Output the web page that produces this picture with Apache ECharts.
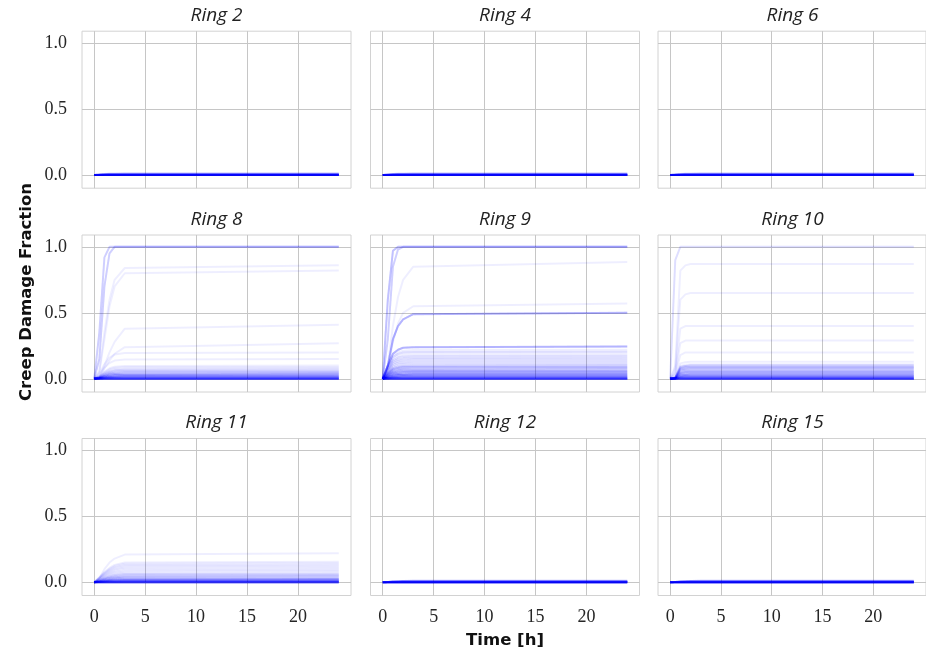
<!DOCTYPE html>
<html><head><meta charset="utf-8">
<script src="https://cdn.jsdelivr.net/npm/echarts@6/dist/echarts.min.js"></script>
<style>html,body{margin:0;padding:0;background:#fff}#c{width:926px;height:654px}</style>
</head><body><div id="c"></div>
<script>
// ---- data ----
const hours = [0, 0.5, 1, 1.5, 2, 3, 24];
const ringNames = ['Ring 2','Ring 4','Ring 6','Ring 8','Ring 9','Ring 10','Ring 11','Ring 12','Ring 15'];
const xTicks = [0, 5, 10, 15, 20];
const yTicks = [0, 0.5, 1.0];
const xTitle = 'Time [h]';
const yTitle = 'Creep Damage Fraction';

// creep damage of sample curves at the hours above; counts = number of samples following each curve
const zeroRingCurves = [
  [0,0,0,0,0,0,0],
  [0,0.002,0.004,0.005,0.006,0.006,0.006],
  [0,0.003,0.007,0.009,0.010,0.011,0.011]
];
const ring2Curves = zeroRingCurves, ring2Counts = [30, 12, 4];
const ring4Curves = zeroRingCurves, ring4Counts = [30, 12, 4];
const ring6Curves = zeroRingCurves, ring6Counts = [30, 12, 4];
const ring12Curves = zeroRingCurves, ring12Counts = [30, 12, 4];
const ring15Curves = zeroRingCurves, ring15Counts = [30, 12, 4];

const ring8Curves = [
  [0,0.35,0.92,1.00,1.00,1.00,1.00],
  [0,0.15,0.70,0.95,1.00,1.00,1.00],
  [0,0.06,0.35,0.60,0.75,0.84,0.86],
  [0,0.05,0.30,0.55,0.70,0.80,0.82],
  [0,0.02,0.10,0.20,0.28,0.38,0.41],
  [0,0.01,0.08,0.14,0.19,0.24,0.27],
  [0,0.04,0.11,0.16,0.184,0.196,0.20],
  [0,0.03,0.083,0.12,0.138,0.147,0.15],
  [0,0.02,0.055,0.08,0.092,0.098,0.10],
  [0,0.018,0.05,0.072,0.083,0.088,0.09],
  [0,0.016,0.044,0.064,0.074,0.078,0.08],
  [0,0.014,0.039,0.056,0.064,0.069,0.07],
  [0,0.012,0.033,0.048,0.055,0.059,0.06],
  [0,0.01,0.028,0.04,0.046,0.049,0.05],
  [0,0.008,0.022,0.032,0.037,0.039,0.04],
  [0,0.006,0.017,0.024,0.028,0.029,0.03],
  [0,0.004,0.011,0.016,0.018,0.02,0.02],
  [0,0.002,0.006,0.008,0.009,0.01,0.01],
  [0,0,0,0,0,0,0]
];
const ring8Counts = [3,3,1,1,1,1,1,1,1,1,1,2,2,3,4,5,7,9,18];

const ring9Curves = [
  [0,0.60,0.97,1.00,1.00,1.00,1.00],
  [0,0.30,0.85,0.98,1.00,1.00,1.00],
  [0,0.10,0.40,0.62,0.75,0.85,0.885],
  [0,0.08,0.28,0.42,0.50,0.55,0.57],
  [0,0.10,0.30,0.40,0.45,0.49,0.50],
  [0,0.10,0.19,0.22,0.235,0.24,0.245],
  [0,0.1,0.176,0.202,0.213,0.218,0.22],
  [0,0.092,0.164,0.189,0.199,0.203,0.205],
  [0,0.086,0.152,0.175,0.184,0.188,0.19],
  [0,0.079,0.14,0.161,0.17,0.173,0.175],
  [0,0.072,0.128,0.147,0.155,0.158,0.16],
  [0,0.065,0.116,0.133,0.141,0.144,0.145],
  [0,0.059,0.104,0.12,0.126,0.129,0.13],
  [0,0.052,0.092,0.106,0.112,0.114,0.115],
  [0,0.045,0.08,0.092,0.097,0.099,0.1],
  [0,0.041,0.072,0.083,0.087,0.089,0.09],
  [0,0.036,0.064,0.074,0.078,0.079,0.08],
  [0,0.032,0.056,0.064,0.068,0.069,0.07],
  [0,0.027,0.048,0.055,0.058,0.059,0.06],
  [0,0.023,0.04,0.046,0.049,0.05,0.05],
  [0,0.018,0.032,0.037,0.039,0.04,0.04],
  [0,0.014,0.024,0.028,0.029,0.03,0.03],
  [0,0.009,0.016,0.018,0.019,0.02,0.02],
  [0,0.005,0.008,0.009,0.01,0.01,0.01],
  [0,0,0,0,0,0,0]
];
const ring9Counts = [4,3,1,1,5,5,1,2,1,2,2,2,2,2,3,3,3,3,4,4,5,6,7,9,18];

const ring10Curves = [
  [0,0.90,1.00,1.00,1.00,1.00,1.00],
  [0,0.10,0.82,0.86,0.87,0.87,0.87],
  [0,0.08,0.60,0.64,0.65,0.65,0.65],
  [0,0.05,0.38,0.40,0.40,0.40,0.40],
  [0,0.04,0.27,0.29,0.29,0.29,0.29],
  [0,0.03,0.18,0.20,0.20,0.20,0.20],
  [0,0.013,0.117,0.126,0.13,0.13,0.13],
  [0,0.011,0.099,0.107,0.11,0.11,0.11],
  [0,0.01,0.09,0.097,0.1,0.1,0.1],
  [0,0.009,0.081,0.087,0.09,0.09,0.09],
  [0,0.008,0.072,0.078,0.08,0.08,0.08],
  [0,0.007,0.063,0.068,0.07,0.07,0.07],
  [0,0.006,0.054,0.058,0.06,0.06,0.06],
  [0,0.005,0.045,0.049,0.05,0.05,0.05],
  [0,0.004,0.036,0.039,0.04,0.04,0.04],
  [0,0.003,0.027,0.029,0.03,0.03,0.03],
  [0,0.002,0.018,0.019,0.02,0.02,0.02],
  [0,0.001,0.009,0.01,0.01,0.01,0.01],
  [0,0,0,0,0,0,0]
];
const ring10Counts = [2,1,1,1,1,1,1,1,3,3,3,3,3,4,4,5,7,9,18];

const ring11Curves = [
  [0,0.03,0.10,0.15,0.18,0.21,0.22],
  [0,0.039,0.078,0.109,0.132,0.15,0.155],
  [0,0.036,0.073,0.102,0.123,0.141,0.145],
  [0,0.034,0.068,0.095,0.115,0.131,0.135],
  [0,0.031,0.063,0.088,0.106,0.121,0.125],
  [0,0.029,0.058,0.081,0.098,0.112,0.115],
  [0,0.026,0.053,0.074,0.089,0.102,0.105],
  [0,0.024,0.048,0.067,0.081,0.092,0.095],
  [0,0.021,0.043,0.06,0.072,0.082,0.085],
  [0,0.019,0.038,0.053,0.064,0.073,0.075],
  [0,0.016,0.033,0.046,0.055,0.063,0.065],
  [0,0.014,0.028,0.039,0.047,0.053,0.055],
  [0,0.011,0.023,0.032,0.038,0.044,0.045],
  [0,0.009,0.018,0.025,0.03,0.034,0.035],
  [0,0.006,0.013,0.018,0.021,0.024,0.025],
  [0,0.004,0.008,0.011,0.013,0.015,0.015],
  [0,0.002,0.004,0.006,0.007,0.008,0.008],
  [0,0,0,0,0,0,0]
];
const ring11Counts = [1,1,1,1,1,1,1,1,1,1,2,2,3,3,5,7,9,18];

const ringCurves = [ring2Curves, ring4Curves, ring6Curves, ring8Curves, ring9Curves, ring10Curves, ring11Curves, ring12Curves, ring15Curves];
const ringCounts = [ring2Counts, ring4Counts, ring6Counts, ring8Counts, ring9Counts, ring10Counts, ring11Counts, ring12Counts, ring15Counts];

// ---- layout / style ----
const colLeft = [82, 370.5, 658];
const rowTop = [31.2, 235, 438.5];
const W = 269, H = 157;
const gridColor = '#c6c6c6';
const lineColor = 'rgba(0,0,255,0.065)';
const tickFont = {fontFamily: '"Liberation Serif", serif', fontSize: 18, color: '#262626'};

const grids = [], xAxes = [], yAxes = [], series = [], titles = [];
ringNames.forEach((name, i) => {
  const row = Math.floor(i / 3), col = i % 3;
  grids.push({left: colLeft[col], top: rowTop[row], width: W, height: H, show: true,
    borderColor: '#d2d2d2', borderWidth: 1, backgroundColor: '#fff'});
  xAxes.push({type: 'value', gridIndex: i, min: -1.2, max: 25.2,
    axisLine: {show: false}, axisTick: {show: false, customValues: xTicks},
    axisLabel: Object.assign({show: row === 2, customValues: xTicks, margin: 13}, tickFont),
    splitLine: {show: true, lineStyle: {color: gridColor, width: 1}}});
  yAxes.push({type: 'value', gridIndex: i, min: -0.1, max: 1.09,
    axisLine: {show: false}, axisTick: {show: false, customValues: yTicks},
    axisLabel: Object.assign({show: col === 0, customValues: yTicks, margin: 15,
      formatter: v => v.toFixed(1)}, tickFont),
    splitLine: {show: true, lineStyle: {color: gridColor, width: 1}}});
  titles.push({text: name, left: colLeft[col] + W / 2, top: rowTop[row] - 25, textAlign: 'center', padding: 0,
    textStyle: {fontFamily: '"Open Sans", sans-serif', fontStyle: 'italic', fontWeight: 'normal', fontSize: 19, color: '#222'}});
  const curves = ringCurves[i], counts = ringCounts[i];
  curves.forEach((curve, c) => {
    const data = hours.map((h, k) => [h, curve[k]]);
    for (let n = 0; n < counts[c]; n++) {
      series.push({type: 'line', xAxisIndex: i, yAxisIndex: i, data: data,
        showSymbol: false, symbol: 'none', silent: true, animation: false,
        lineStyle: {color: lineColor, width: 2}});
    }
  });
});

titles.push({text: xTitle, left: 505, top: 632, textAlign: 'center', padding: 0,
  textStyle: {fontFamily: '"DejaVu Sans", sans-serif', fontWeight: 'bold', fontSize: 16.5, color: '#111'}});

const chart = echarts.init(document.getElementById('c'), null, {renderer: 'canvas'});
chart.setOption({
  backgroundColor: '#fff',
  animation: false,
  title: titles,
  grid: grids,
  xAxis: xAxes,
  yAxis: yAxes,
  series: series,
  graphic: [{type: 'text', x: 27, y: 292, rotation: Math.PI / 2,
    style: {text: yTitle, align: 'center', verticalAlign: 'middle',
      font: 'bold 16.5px "DejaVu Sans", sans-serif', fill: '#111'}}]
});
</script></body></html>
